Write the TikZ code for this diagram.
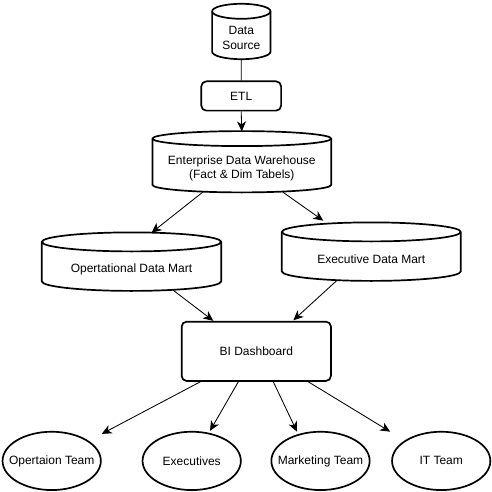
\documentclass[tikz,border=0pt]{standalone}
\usepackage{fontspec}
\setmainfont{Liberation Sans}
\usetikzlibrary{arrows.meta,shapes.geometric}
\newcommand\cylnode[8]{% name, cx, top, bottom, rx, ry, text, text y
  \node[draw=none, minimum width={2*#5pt}, minimum height={#4pt-#3pt}, inner sep=0pt] (#1) at (#2,{-(#3+#4)/2}) {};
  \draw[shp] (#2-#5,-#3-#6) arc[start angle=180, end angle=0, x radius=#5pt, y radius=#6pt]
     -- (#2+#5,-#4+#6) arc[start angle=0, end angle=-180, x radius=#5pt, y radius=#6pt] -- cycle;
  \draw[shp] (#2-#5,-#3-#6) arc[start angle=180, end angle=360, x radius=#5pt, y radius=#6pt];
  \node[txt] (#1t) at (#2,-#8) {#7};
}
\begin{document}
\begin{tikzpicture}[x=1pt,y=1pt,
  shp/.style={line width=1.7pt, line join=round},
  conn/.style={line width=0.85pt},
  arr/.style={conn,-{Stealth[length=10pt,width=9pt,inset=3pt]}},
  txt/.style={font=\fontsize{12}{14.5}\selectfont, align=center, inner sep=0pt},
  rbox/.style={draw, shp, rounded corners=5pt, inner sep=0pt, font=\fontsize{12}{14.5}\selectfont},
  team/.style={ellipse, draw, shp, minimum width=98.3pt, minimum height=58.3pt, inner sep=0pt, font=\fontsize{12}{14.5}\selectfont}]
\fill[white] (0,0) rectangle (492,-492);
\useasboundingbox (0,0) rectangle (492,-492);

\cylnode{ds}{241.3}{3.8}{59.2}{29.2}{7.5}{Data\\Source}{38}
\node[rbox, minimum width=79.8pt, minimum height=29.3pt] (etl) at (241.2,-96) {ETL};
\cylnode{edw}{241.8}{131.1}{192.4}{89.4}{7.5}{Enterprise Data Warehouse\\(Fact \& Dim Tabels)}{168.5}
\cylnode{opm}{131.5}{232.4}{290.9}{89.7}{9.5}{Opertational Data Mart}{269}
\cylnode{exm}{371.3}{222.4}{280.9}{89.5}{9.5}{Executive Data Mart}{259}
\node[rbox, minimum width=149.3pt, minimum height=59.3pt] (bi) at (256.3,-351.3) {BI Dashboard};

\node[team] (t1) at (51.7,-460.9) {\makebox[0pt]{Opertaion Team}};
\node[team] (t2) at (191.7,-460.9) {\makebox[0pt]{Executives}};
\node[team] (t3) at (320.5,-460.9) {\makebox[0pt]{Marketing Team}};
\node[team] (t4) at (441.2,-460.9) {\makebox[0pt]{IT Team}};

\draw[conn] (ds.south) -- (etl.north);
\draw[arr] (etl.south) -- ([yshift=-0.5]edw.north);
\draw[arr] ([xshift=-39,yshift=0.5]edw.south) -- ([xshift=20,yshift=-0.5]opm.north);
\draw[arr] ([xshift=41,yshift=0.5]edw.south) -- ([xshift=-48,yshift=1.5]exm.north);
\draw[arr] ([xshift=41.5,yshift=1]opm.south) -- ([xshift=-43]bi.north);
\draw[arr] ([xshift=-34.6,yshift=0.5]exm.south) -- ([xshift=37,yshift=0.5]bi.north);
\draw[arr] ([xshift=-56]bi.south) -- ([xshift=50,yshift=-3]t1.north);
\draw[arr] ([xshift=-18]bi.south) -- ([xshift=18.3]t2.north);
\draw[arr] ([xshift=17]bi.south) -- ([xshift=-23.5,yshift=-0.8]t3.north);
\draw[arr] ([xshift=52]bi.south) -- ([xshift=-51,yshift=-0.8]t4.north);
\end{tikzpicture}
\end{document}
